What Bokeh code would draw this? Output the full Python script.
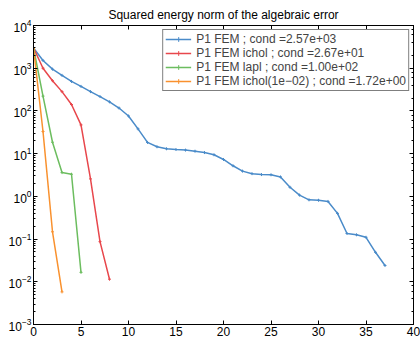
from bokeh.plotting import figure
from bokeh.models import (Legend, LegendItem, LinearAxis, LogAxis, FixedTicker,
                          Range1d, Title)
from bokeh.embed import file_html
from bokeh.resources import INLINE

# ---- data ----
it_fem = list(range(38))
err_fem = [3000, 1520, 950, 680, 490, 375, 283, 217, 163, 117, 76, 38, 18.3, 14.5,
           13.0, 12.5, 12.1, 11.4, 10.6, 9.4, 7.3, 5.2, 3.9, 3.4, 3.24, 3.2, 2.85,
           1.63, 1.07, 0.83, 0.81, 0.76, 0.40, 0.135, 0.126, 0.11, 0.049, 0.024]
it_ichol = list(range(9))
err_ichol = [3000, 1000, 510, 283, 141, 47, 2.56, 0.087, 0.0115]
it_lapl = list(range(6))
err_lapl = [3000, 222, 18.5, 3.6, 3.3, 0.0166]
it_ichol2 = list(range(4))
err_ichol2 = [3000, 33, 0.148, 0.0058]

labels = ["P1 FEM ; cond =2.57e+03",
          "P1 FEM ichol ; cond =2.67e+01",
          "P1 FEM lapl ; cond =1.00e+02",
          "P1 FEM ichol(1e\u221202) ; cond =1.72e+00"]
x_ticks = [0, 5, 10, 15, 20, 25, 30, 35, 40]
title_text = "Squared energy norm of the algebraic error"

colors = ["#4a8bc9", "#e8474c", "#6cbd5f", "#f9912e"]
FONT = "Liberation Sans"

p = figure(width=420, height=341, output_backend="svg", toolbar_location=None,
           y_axis_type="log", x_range=Range1d(0, 40), y_range=Range1d(1e-3, 1e4),
           min_border_left=33, min_border_right=7, min_border_top=25,
           min_border_bottom=17)
p.title = Title(text=title_text, align="center", text_font=FONT,
                text_font_size="12px", text_font_style="normal",
                text_color="#000000", offset=0, standoff=7)
p.xgrid.visible = False
p.ygrid.visible = False
p.outline_line_color = "black"
p.outline_line_alpha = 1
p.background_fill_color = "white"
p.border_fill_color = "white"

def style_axis(ax, labels_on=True):
    ax.axis_line_color = "black"
    ax.major_tick_line_color = "black"
    ax.minor_tick_line_color = "black"
    ax.major_tick_in = 4
    ax.major_tick_out = 0
    ax.minor_tick_in = 2
    ax.minor_tick_out = 0
    ax.major_label_text_font = FONT
    ax.major_label_text_font_size = "12px"
    ax.major_label_text_color = "black"
    ax.major_label_standoff = 3
    if not labels_on:
        ax.major_label_text_font_size = "0px"
        ax.major_label_text_alpha = 0

style_axis(p.xaxis[0])
p.xaxis[0].ticker = FixedTicker(ticks=x_ticks)
p.xaxis[0].major_label_standoff = 2
style_axis(p.yaxis[0])
p.yaxis[0].major_label_standoff = 2

top = LinearAxis(ticker=FixedTicker(ticks=x_ticks))
style_axis(top, labels_on=False)
top.major_label_standoff = 0
p.add_layout(top, "above")
right = LogAxis()
style_axis(right, labels_on=False)
right.major_label_standoff = 0
p.add_layout(right, "right")

series = [(it_fem, err_fem), (it_ichol, err_ichol), (it_lapl, err_lapl),
          (it_ichol2, err_ichol2)]
items = []
for (xs, ys), c, lab in zip(series, colors, labels):
    r1 = p.line(xs, ys, line_color=c, line_width=1.5)
    r2 = p.scatter(xs, ys, marker="cross", size=3, line_color=c, line_width=1)
    items.append(LegendItem(label=lab, renderers=[r1, r2]))

legend = Legend(items=items, location="top_right", margin=4, padding=2,
                spacing=0, glyph_width=26, glyph_height=12, label_height=12,
                label_standoff=5, label_text_font=FONT,
                label_text_font_size="12px", border_line_color="black",
                border_line_width=1, background_fill_alpha=1)
p.add_layout(legend, "center")

open("out.html", "w").write(file_html(p, INLINE))
